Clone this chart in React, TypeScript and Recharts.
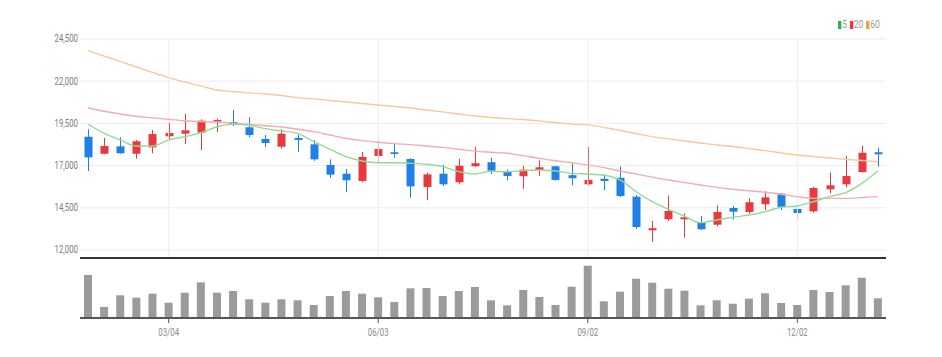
import React from 'react';
import { ComposedChart, Bar, Line, XAxis, YAxis, CartesianGrid, ReferenceLine } from 'recharts';

const dates = [
  '01/29', '02/05', '02/12', '02/19', '02/26', '03/04', '03/11', '03/18', '03/25', '04/01',
  '04/08', '04/15', '04/22', '04/29', '05/06', '05/13', '05/20', '05/27', '06/03', '06/10',
  '06/17', '06/24', '07/01', '07/08', '07/15', '07/22', '07/29', '08/05', '08/12', '08/19',
  '08/26', '09/02', '09/09', '09/16', '09/23', '09/30', '10/07', '10/14', '10/21', '10/28',
  '11/04', '11/11', '11/18', '11/25', '12/02', '12/09', '12/16', '12/23', '12/30', '01/06',
];

const openP = [
  18710, 17700, 18140, 17700, 18080, 18740, 18890, 18950, 19600, 19580,
  19270, 18580, 18120, 18640, 18260, 17040, 16520, 16090, 17570, 17790,
  17390, 15730, 16520, 16010, 16960, 17200, 16640, 16370, 16740, 16960,
  16430, 15890, 16220, 16280, 15160, 13170, 13820, 13820, 13620, 13500,
  14490, 14250, 14710, 15340, 14430, 14290, 15600, 15890, 16620, 17790,
];
const highP = [
  19150, 18640, 18680, 18520, 19110, 19540, 20060, 19740, 19780, 20290,
  19860, 18810, 19150, 18830, 18520, 17370, 16800, 17810, 18480, 18280,
  17430, 16580, 17050, 17410, 18120, 17470, 16780, 16990, 17310, 16990,
  17170, 18100, 16480, 16940, 15260, 13720, 15220, 14170, 14010, 14650,
  14610, 15060, 15480, 15380, 14610, 15750, 16580, 17570, 18180, 18060,
];
const lowP = [
  16680, 17680, 17700, 17410, 17730, 18560, 18280, 17920, 18990, 19350,
  18690, 18100, 18020, 17820, 17290, 16270, 15420, 16010, 17140, 17470,
  15100, 14960, 15790, 15890, 16920, 16500, 16130, 15630, 16380, 16100,
  15830, 15830, 15550, 15140, 13260, 12490, 13720, 12730, 13180, 13400,
  13800, 14150, 14370, 14370, 13850, 14210, 15360, 15710, 16580, 16940,
];
const closeP = [
  17490, 18160, 17730, 18440, 18870, 18930, 19090, 19660, 19700, 19450,
  18810, 18340, 18890, 18520, 17370, 16460, 16130, 17510, 17980, 17690,
  15770, 16480, 15890, 16990, 17140, 16700, 16380, 16760, 16900, 16150,
  16250, 16150, 16090, 15200, 13360, 13290, 14310, 13940, 13230, 14250,
  14270, 14830, 15120, 14550, 14190, 15670, 15830, 16380, 17760, 17670,
];

const ma5 = [
  19450, 18910, 18520, 18160, 18160, 18520, 18710, 18950, 19300, 19460,
  19390, 19190, 19050, 18910, 18420, 17970, 17530, 17270, 17170, 17170,
  17140, 17080, 16940, 16640, 16500, 16660, 16640, 16700, 16740, 16680,
  16540, 16500, 16430, 16150, 15450, 14860, 14410, 14000, 13620, 13780,
  13940, 14070, 14270, 14530, 14610, 14860, 15160, 15400, 15950, 16700,
];
const ma20 = [
  20430, 20220, 20060, 19920, 19830, 19740, 19660, 19610, 19580, 19520,
  19450, 19360, 19290, 19150, 19010, 18810, 18620, 18480, 18380, 18300,
  18240, 18160, 18080, 17970, 17860, 17790, 17730, 17590, 17430, 17290,
  17170, 17040, 16880, 16680, 16500, 16320, 16150, 16000, 15850, 15710,
  15600, 15510, 15420, 15300, 15160, 15060, 15060, 15060, 15100, 15160,
];
const ma60 = [
  23810, 23490, 23170, 22840, 22520, 22210, 21950, 21720, 21480, 21390,
  21310, 21240, 21150, 21030, 20950, 20860, 20770, 20680, 20590, 20500,
  20410, 20290, 20180, 20060, 19940, 19850, 19790, 19730, 19640, 19550,
  19460, 19410, 19260, 19080, 18900, 18720, 18580, 18460, 18340, 18220,
  18130, 18010, 17890, 17750, 17630, 17540, 17450, 17370, 17300, 17230,
];

const volume = [
  430000, 110000, 227000, 203000, 243000, 153000, 253000, 357000, 253000, 270000,
  187000, 153000, 187000, 177000, 130000, 220000, 270000, 243000, 207000, 160000,
  297000, 300000, 220000, 270000, 310000, 177000, 127000, 280000, 210000, 130000,
  313000, 523000, 167000, 263000, 393000, 353000, 293000, 273000, 127000, 177000,
  143000, 193000, 247000, 150000, 130000, 280000, 260000, 327000, 403000, 197000,
];

const priceTicks = [12000, 14500, 17000, 19500, 22000, 24500];
const dateTicks = ['03/04', '06/03', '09/02', '12/02'];
const legendItems = [
  { label: '5', color: '#2db34a' },
  { label: '20', color: '#e8393e' },
  { label: '60', color: '#f0a143' },
];

const PRICE_MIN = 11526;
const PRICE_MAX = 24500;

const data = dates.map((d, i) => ({
  date: d,
  open: openP[i],
  high: highP[i],
  low: lowP[i],
  close: closeP[i],
  range: [lowP[i], highP[i]],
  ma5: ma5[i],
  ma20: ma20[i],
  ma60: ma60[i],
  volume: volume[i],
}));

const UP = '#e8393e';
const DOWN = '#1f80e6';
const FONT = "Roboto, 'Noto Sans', sans-serif";

const Candle = (props: any) => {
  const { x, y, width, height, payload } = props;
  if (!payload) return null;
  const { open, close, high, low } = payload;
  const color = close >= open ? UP : DOWN;
  const ratio = high - low > 0 ? height / (high - low) : 0;
  const cx = Math.round(x + width / 2) + 0.5;
  const top = y + (high - Math.max(open, close)) * ratio;
  const bot = y + (high - Math.min(open, close)) * ratio;
  return (
    <g>
      <line x1={cx} x2={cx} y1={y} y2={y + height} stroke={color} strokeWidth={1} />
      <rect x={cx - 4} y={top} width={8} height={Math.max(bot - top, 1.5)} fill={color} />
    </g>
  );
};

const YTick = (props: any) => {
  const { x, y, payload } = props;
  const label = Number(payload.value).toLocaleString('en-US');
  return (
    <text
      transform={`translate(${x},${y}) scale(0.78,1)`}
      textAnchor="end"
      dominantBaseline="central"
      fill="#7a7a7a"
      fontSize={10}
      fontFamily={FONT}
    >
      {label}
    </text>
  );
};

const XTick = (props: any) => {
  const { x, y, payload } = props;
  return (
    <text
      transform={`translate(${x},${y + 9}) scale(0.78,1)`}
      textAnchor="middle"
      fill="#8a8a8a"
      fontSize={10}
      fontFamily={FONT}
    >
      {payload.value}
    </text>
  );
};

export default function App() {
  return (
    <div style={{ position: 'absolute', left: 0, top: 0, width: 942, height: 357, background: '#fff' }}>
      <div style={{ position: 'absolute', left: 0, top: 0 }}>
        <ComposedChart width={942} height={262} data={data} margin={{ top: 39, right: 56, left: 30, bottom: 4 }}>
          <CartesianGrid vertical={false} stroke="#ececec" strokeWidth={1} />
          {dateTicks.map((t) => (
            <ReferenceLine key={t} x={t} stroke="#eeeeee" strokeWidth={1} />
          ))}
          <XAxis dataKey="date" height={0} tick={false} tickLine={false} axisLine={false} />
          <YAxis
            width={50}
            domain={[PRICE_MIN, PRICE_MAX]}
            ticks={priceTicks}
            allowDataOverflow
            axisLine={false}
            tickLine={false}
            tickSize={0}
            tickMargin={2}
            tick={<YTick />}
          />
          <ReferenceLine y={PRICE_MIN} stroke="#333" strokeWidth={2} />
          <Line dataKey="ma60" type="monotone" stroke="#f7c99c" strokeWidth={1.4} dot={false} isAnimationActive={false} />
          <Line dataKey="ma20" type="monotone" stroke="#f6aab1" strokeWidth={1.4} dot={false} isAnimationActive={false} />
          <Line dataKey="ma5" type="monotone" stroke="#94d994" strokeWidth={1.4} dot={false} isAnimationActive={false} />
          <Bar dataKey="range" barSize={8} shape={<Candle />} isAnimationActive={false} />
        </ComposedChart>
      </div>
      <div style={{ position: 'absolute', left: 0, top: 258 }}>
        <ComposedChart width={942} height={99} data={data} margin={{ top: 6, right: 56, left: 80, bottom: 0 }}>
          <XAxis
            dataKey="date"
            height={39}
            ticks={dateTicks}
            interval={0}
            axisLine={{ stroke: '#555', strokeWidth: 2 }}
            tickLine={{ stroke: '#555' }}
            tickSize={5}
            tickMargin={4}
            tick={<XTick />}
          />
          <YAxis hide domain={[0, 540000]} allowDataOverflow />
          <Bar dataKey="volume" barSize={8} fill="#9b9b9b" isAnimationActive={false} />
        </ComposedChart>
      </div>
      <div
        style={{
          position: 'absolute',
          left: 838,
          top: 19,
          display: 'flex',
          alignItems: 'center',
          fontFamily: FONT,
          fontSize: 10,
          color: '#999',
          lineHeight: '12px',
          transform: 'scaleX(0.85)',
          transformOrigin: 'left center',
        }}
      >
        {legendItems.map((it) => (
          <div key={it.label} style={{ display: 'flex', alignItems: 'center', marginRight: 3 }}>
            <span style={{ display: 'inline-block', width: 4, height: 8, background: it.color, marginRight: 1 }} />
            <span>{it.label}</span>
          </div>
        ))}
      </div>
    </div>
  );
}
